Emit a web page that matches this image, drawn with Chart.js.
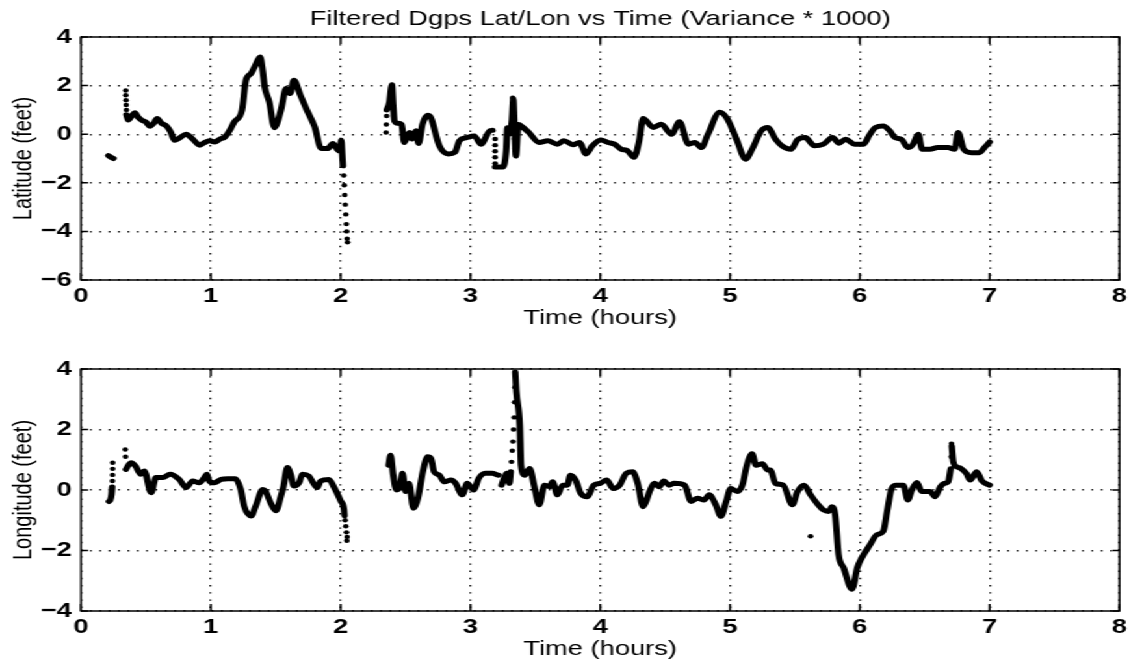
<!DOCTYPE html>
<html>
<head>
<meta charset="utf-8">
<script src="https://cdn.jsdelivr.net/npm/chart.js@4.4.1/dist/chart.umd.min.js"></script>
<style>
html, body { margin: 0; padding: 0; background: #fff; }
/* the original figure is stretched sideways, so draw narrow and widen */
#wrap { position: absolute; left: 0; top: 0; width: 871px; height: 666px; transform: scaleX(1.3); transform-origin: 0 0; }
canvas { position: absolute; left: 0; }
#latChart { top: 0; }
#lonChart { top: 333px; }
</style>
</head>
<body>
<div id="wrap">
<canvas id="latChart" width="871" height="333"></canvas>
<canvas id="lonChart" width="871" height="333"></canvas>
</div>
<script>
// latitude trace (null = gap in the record)
var latTime = [0.21,0.23,0.25,0.30,
  0.35,0.364,0.39,0.415,0.44,0.467,0.5,0.53,0.56,0.587,0.62,0.66,0.69,0.72,0.76,0.81,0.86,0.915,0.95,0.99,
  1.03,1.07,1.11,1.15,1.18,1.24,1.27,1.31,1.34,1.38,1.40,1.415,1.45,1.49,1.54,1.58,1.61,1.64,1.69,1.74,
  1.8,1.85,1.9,1.94,1.97,1.99,2.005,2.012,2.018,
  2.2,
  2.355,2.375,2.395,2.405,2.415,2.44,2.47,2.49,2.53,2.55,2.58,2.60,2.63,2.67,2.695,2.76,2.83,2.88,2.915,2.97,
  3.03,3.08,3.15,3.17,
  3.18,
  3.19,3.25,3.275,3.285,3.30,3.32,3.33,3.34,3.35,3.37,3.40,3.45,3.53,3.595,3.67,3.72,3.79,3.84,3.89,3.94,
  4.005,4.06,4.11,4.16,4.21,4.26,4.30,4.33,4.41,4.47,4.55,4.61,4.68,4.73,4.78,4.83,4.92,4.98,5.05,5.12,
  5.17,5.24,5.29,5.35,5.40,5.47,5.52,5.58,5.65,5.72,5.79,5.84,5.89,5.96,6.03,6.07,6.12,6.18,6.23,6.27,
  6.32,6.37,6.41,6.45,6.48,6.54,6.60,6.68,6.73,6.757,6.80,6.86,6.92,6.96,7.0];
var latValue = [-0.88,-0.95,-1.0,null,
  0.8,0.58,0.75,0.88,0.7,0.58,0.5,0.33,0.45,0.65,0.45,0.33,0.1,-0.25,-0.15,0,-0.2,-0.45,-0.35,-0.27,
  -0.32,-0.2,-0.11,0.2,0.5,0.99,2.22,2.5,2.8,3.18,2.6,1.95,1.33,0.27,0.99,1.88,1.67,2.22,1.6,0.99,
  0.3,-0.59,-0.59,-0.38,-0.6,-0.69,-0.25,-0.8,-1.3,
  null,
  1.0,1.3,2.03,1.2,0.54,0.45,0.4,-0.34,0.07,-0.2,0.14,-0.38,0.4,0.78,0.68,-0.47,-0.81,-0.74,-0.27,-0.14,
  -0.07,-0.41,0.14,0.16,
  null,
  -1.35,-1.35,-0.68,0.27,0.0,0.6,1.45,0.3,-0.9,0.4,0.3,0.07,-0.34,-0.27,-0.41,-0.27,-0.43,-0.34,-0.81,-0.47,
  -0.24,-0.34,-0.41,-0.61,-0.68,-0.95,-0.27,0.65,0.28,0.41,0,0.51,-0.41,-0.34,-0.55,0,0.9,0.62,-0.21,-1.03,
  -0.62,0.14,0.28,-0.21,-0.48,-0.62,-0.23,-0.14,-0.48,-0.41,-0.14,-0.37,-0.21,-0.41,-0.41,-0.07,0.28,0.34,0.14,-0.14,
  -0.21,-0.55,-0.41,0,-0.62,-0.62,-0.55,-0.55,-0.62,0.07,-0.62,-0.76,-0.76,-0.55,-0.32];
// sparse samples that show up as separate dots
var latDotTime = [0.345,0.345,0.347,0.348,0.35,
  2.024,2.028,2.032,2.036,2.04,2.044,2.047,2.05,2.053,
  2.35,2.352,2.354,
  3.19,3.19,3.19,3.19,3.19,
  3.325,3.328,3.331,3.334,3.337,3.34,3.343];
var latDotValue = [1.8,1.6,1.4,1.2,1.0,
  -1.7,-2.1,-2.5,-2.9,-3.3,-3.7,-4.0,-4.3,-4.45,
  0.07,0.4,0.75,
  -0.2,-0.45,-0.7,-0.95,-1.2,
  1.5,1.2,0.9,0.6,0.2,-0.2,-0.6];

// longitude trace
var lonTime = [0.215,0.225,0.235,0.24,0.3,
  0.346,0.37,0.385,0.42,0.46,0.487,0.54,0.577,0.63,0.687,0.756,0.81,0.86,0.91,0.95,0.97,0.987,1.026,1.08,1.13,
  1.19,1.23,1.256,1.31,1.346,1.40,1.42,1.46,1.50,1.54,1.56,1.59,1.615,1.64,1.68,1.705,1.756,1.795,1.82,1.846,
  1.91,1.95,2.0,2.026,2.03,
  2.2,
  2.37,2.385,2.405,2.43,2.456,2.476,2.50,2.527,2.56,2.595,2.633,2.67,2.696,2.72,2.76,2.80,2.85,2.886,2.937,2.975,
  3.025,3.063,3.114,3.165,3.215,
  3.23,
  3.24,3.26,3.28,3.30,3.31,3.33,3.345,3.354,3.38,3.39,3.418,
  3.456,3.49,3.53,3.57,3.61,3.633,3.67,3.71,3.747,3.77,3.81,3.85,3.90,3.95,4.0,4.05,4.10,4.15,4.20,4.25,
  4.29,4.33,4.36,4.38,4.42,4.455,4.49,4.53,4.57,4.65,4.70,4.75,4.80,4.84,4.89,4.93,4.97,5.005,5.056,5.095,
  5.13,5.17,5.2,5.25,5.29,5.31,5.35,5.41,5.48,5.52,5.57,5.62,5.67,5.72,5.76,5.785,5.81,5.836,5.875,5.94,
  5.98,6.015,6.08,6.13,6.18,6.21,6.245,6.28,6.335,6.37,6.40,6.44,6.475,6.54,6.58,6.62,6.65,6.68,6.70,6.705,6.708,
  6.72,6.745,6.78,6.82,6.85,6.90,6.94,7.0];
var lonValue = [-0.38,-0.33,-0.15,0.1,null,
  0.68,0.85,0.9,0.79,0.52,0.63,-0.09,0.41,0.41,0.52,0.35,0.08,0.3,0.24,0.41,0.52,0.3,0.24,0.35,0.37,
  0.37,0.02,-0.53,-0.86,-0.53,0.02,-0.03,-0.42,-0.69,-0.2,0.13,0.74,0.52,0.13,0.24,0.52,0.46,0.19,0.08,0.3,
  0.35,0.08,-0.36,-0.64,-0.85,
  null,
  0.82,1.15,0.49,0,0.11,0.55,-0.05,0.22,-0.6,-0.27,0.6,1.1,1.04,0.6,0.49,0.27,0.33,0.22,-0.16,0.22,
  0,0.38,0.55,0.55,0.49,
  null,
  0.16,0.4,0.55,0.22,0.6,null,3.9,3.24,2.14,0.82,0.49,
  0.71,0.16,-0.49,0.16,0.11,0.27,-0.16,0.16,0.16,0.49,0.33,-0.11,-0.22,0.16,0.22,0.33,0.05,0.16,0.55,0.6,
  0.2,-0.55,-0.3,-0.05,0.22,0.11,0.3,0.16,0.22,0.16,-0.38,-0.27,-0.33,-0.16,-0.49,-0.87,-0.38,0.05,-0.05,0.16,
  0.82,1.2,0.82,0.87,0.66,0.66,0.22,0.16,-0.49,-0.05,0.16,-0.16,-0.44,-0.66,-0.71,-0.55,-0.82,-2.13,-2.57,-3.28,
  -2.57,-2.24,-1.8,-1.48,-1.37,-0.71,0.05,0.16,0.16,-0.33,0,0.25,-0.05,-0.05,-0.22,0.11,0.22,0.27,0.7,null,1.45,
  0.93,0.77,0.71,0.55,0.33,0.6,0.3,0.16];
var lonDotTime = [0.242,0.243,0.244,0.244, 0.341,0.343,
  2.035,2.04,2.045,2.05,2.048,
  3.316,3.322,3.327,3.332,3.337,3.34,3.343,
  5.62, 6.704,6.706];
var lonDotValue = [0.3,0.5,0.7,0.9, 1.34,1.1,
  -1.0,-1.2,-1.4,-1.55,-1.68,
  0.93,1.3,1.6,2.0,2.4,2.9,3.4,
  -1.53, 1.1,1.53];

var chartTitle = 'Filtered Dgps Lat/Lon vs Time (Variance * 1000)';
var xLabel = 'Time (hours)';

Chart.defaults.font.family = '"Liberation Sans", Arial, Helvetica, sans-serif';
Chart.defaults.color = '#000';

function pts(t, v) {
  return t.map(function(x, i) { return {x: x, y: v[i]}; });
}

// MATLAB style box with inward ticks on all four sides
var boxPlugin = {
  id: 'box',
  afterDatasetsDraw: function(chart) {
    var a = chart.chartArea, ctx = chart.ctx;
    var xs = chart.scales.x, ys = chart.scales.y;
    ctx.save();
    ctx.strokeStyle = '#000';
    ctx.lineWidth = 1.5;
    ctx.strokeRect(a.left, a.top, a.right - a.left, a.bottom - a.top);
    ctx.beginPath();
    xs.ticks.forEach(function(t) {
      var px = xs.getPixelForValue(t.value);
      ctx.moveTo(px, a.bottom); ctx.lineTo(px, a.bottom - 7);
      ctx.moveTo(px, a.top); ctx.lineTo(px, a.top + 7);
    });
    ys.ticks.forEach(function(t) {
      var py = ys.getPixelForValue(t.value);
      ctx.moveTo(a.left, py); ctx.lineTo(a.left + 5.5, py);
      ctx.moveTo(a.right, py); ctx.lineTo(a.right - 5.5, py);
    });
    ctx.stroke();
    ctx.restore();
  }
};

function makeChart(id, lineT, lineV, dotT, dotV, yMin, yMax, yTitle, opts) {
  return new Chart(document.getElementById(id), {
    type: 'line',
    data: {
      datasets: [{
        data: pts(lineT, lineV),
        borderColor: '#000',
        borderWidth: 5,
        borderJoinStyle: 'round',
        borderCapStyle: 'round',
        cubicInterpolationMode: 'monotone',
        pointRadius: 0,
        spanGaps: false
      }, {
        data: pts(dotT, dotV),
        showLine: false,
        pointRadius: 2.2,
        pointBorderWidth: 0,
        pointBackgroundColor: '#000'
      }]
    },
    options: {
      responsive: false,
      animation: false,
      layout: { padding: { left: 0, right: 8.7, top: opts.padTop, bottom: 0 } },
      plugins: {
        legend: { display: false },
        tooltip: { enabled: false },
        title: opts.title
      },
      scales: {
        x: {
          type: 'linear', min: 0, max: 8,
          ticks: { stepSize: 1, padding: 4, font: { size: 21, weight: 'bold' } },
          grid: { color: '#111', lineWidth: 1.4, drawTicks: false },
          border: { display: false, dash: [1.4, 5.8] },
          title: { display: true, text: xLabel, font: { size: 21 }, padding: { top: 0, bottom: opts.xTitlePad } },
          afterFit: function(s) { s.height = opts.xHeight; }
        },
        y: {
          min: yMin, max: yMax,
          ticks: {
            stepSize: 2, padding: 7, font: { size: 21, weight: 'bold' },
            callback: function(v) { return v < 0 ? '\u2212' + (-v) : '' + v; }
          },
          grid: { color: '#111', lineWidth: 1.4, drawTicks: false },
          border: { display: false, dash: [1.4, 5.8] },
          title: { display: true, text: yTitle, font: { size: 20 }, padding: { top: 6.8, bottom: 0 } },
          afterFit: function(s) { s.width = 62.3; }
        }
      }
    },
    plugins: [boxPlugin]
  });
}

makeChart('latChart', latTime, latValue, latDotTime, latDotValue, -6, 4, 'Latitude (feet)', {
  padTop: 0,
  xHeight: 53,
  xTitlePad: 2,
  title: {
    display: true, text: chartTitle, fullSize: false,
    font: { size: 21, weight: 'normal' }, padding: { top: 7, bottom: 4.8 }
  }
});

makeChart('lonChart', lonTime, lonValue, lonDotTime, lonDotValue, -4, 4, 'Longitude (feet)', {
  padTop: 36,
  xHeight: 55,
  xTitlePad: 4,
  title: { display: false }
});
</script>
</body>
</html>
